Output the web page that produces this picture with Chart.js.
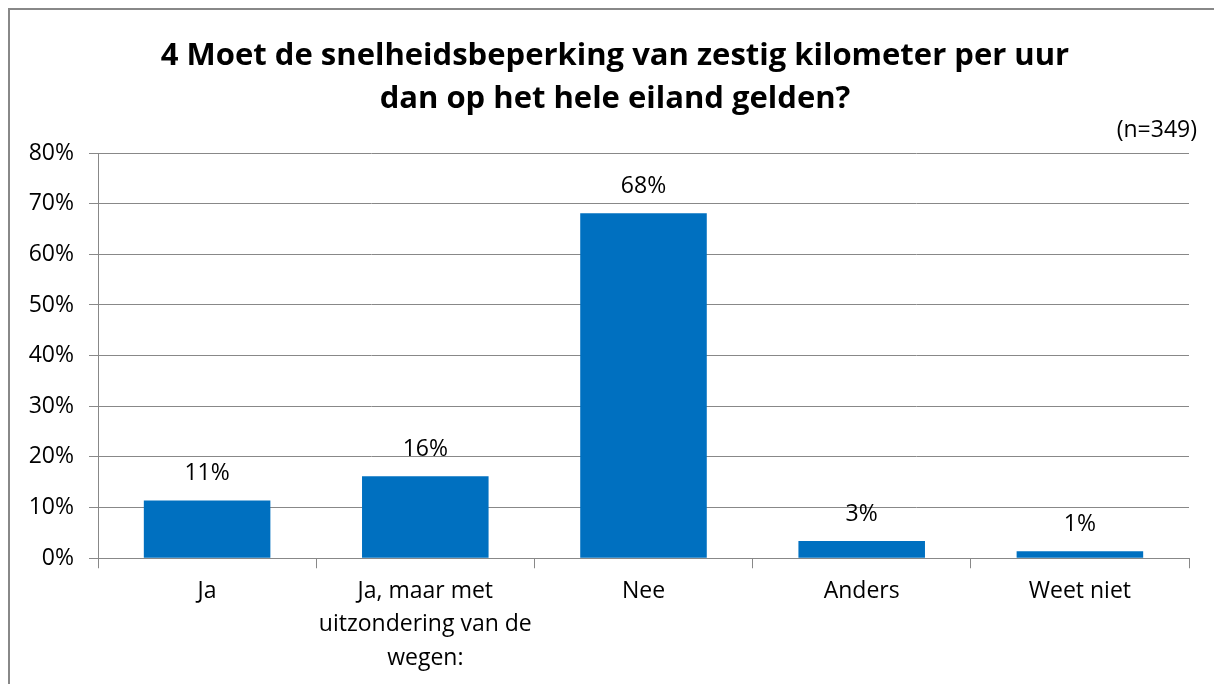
<!DOCTYPE html>
<html>
<head>
<meta charset="utf-8">
<script src="https://cdn.jsdelivr.net/npm/chart.js@4"></script>
<style>
  html, body { margin: 0; padding: 0; background: #fff; overflow: hidden; width: 1214px; height: 684px; }
  .edge { position: absolute; background: #888; }
  #edgeTop { left: 8px; top: 8px; width: 1206px; height: 2px; }
  #edgeLeft { left: 8px; top: 8px; width: 2px; height: 676px; }
  #wrap { position: absolute; left: 0; top: 0; width: 1214px; height: 684px; }
</style>
</head>
<body>
<div class="edge" id="edgeTop"></div>
<div class="edge" id="edgeLeft"></div>
<div id="wrap"><canvas id="chart"></canvas></div>
<script>
// antwoorden en percentages
const categories = ["Ja", ["Ja, maar met", "uitzondering van de", "wegen:"], "Nee", "Anders", "Weet niet"];
const percentages = [11.4, 16.2, 68.1, 3.4, 1.4];
const yTicks = [0, 10, 20, 30, 40, 50, 60, 70, 80];
const titleLines = ["4 Moet de snelheidsbeperking van zestig kilometer per uur", "dan op het hele eiland gelden?"];
const sampleNote = "(n=349)";

const FONT = "'Open Sans', 'Noto Sans', sans-serif";
const GRID = "#888888";
const TXT = 23;

// titel (gecentreerd op het kader), labels boven de staven, (n=...) rechtsboven
const textPlugin = {
    id: "chartTexts",
    afterDatasetsDraw(chart) {
        const ctx = chart.ctx;
        const meta = chart.getDatasetMeta(0);
        ctx.save();
        ctx.fillStyle = "#000";
        ctx.textAlign = "center";
        ctx.textBaseline = "middle";

        ctx.font = "bold 31px " + FONT;
        titleLines.forEach((line, i) => ctx.fillText(line, 615, 56 + i * 43));

        ctx.font = TXT + "px " + FONT;
        meta.data.forEach((bar, i) => {
            ctx.fillText(Math.round(percentages[i]) + "%", bar.x, bar.y - 27);
        });
        ctx.textAlign = "right";
        ctx.fillText(sampleNote, chart.chartArea.right + 8, chart.chartArea.top - 23);
        ctx.restore();
    }
};

new Chart(document.getElementById("chart"), {
    type: "bar",
    data: {
        labels: categories,
        datasets: [{
            data: percentages,
            backgroundColor: "#0070C0",
            borderWidth: 0,
            barPercentage: 0.58,
            categoryPercentage: 1
        }]
    },
    options: {
        responsive: true,
        maintainAspectRatio: false,
        animation: false,
        layout: { padding: { left: 0, right: 25, top: 153, bottom: 0 } },
        plugins: {
            legend: { display: false },
            tooltip: { enabled: false },
            title: { display: false }
        },
        scales: {
            x: {
                afterFit(scale) { scale.height += 3; },
                grid: { display: true, drawOnChartArea: false, drawTicks: true, tickLength: 10, color: GRID, offset: true },
                border: { display: true, color: GRID, width: 1 },
                ticks: { color: "#000", font: { family: FONT, size: TXT, lineHeight: 1.46 }, padding: 6, maxRotation: 0, autoSkip: false }
            },
            y: {
                min: 0,
                max: 80,
                afterFit(scale) { scale.width = 98; },
                afterBuildTicks(scale) { scale.ticks = yTicks.map(v => ({ value: v })); },
                grid: { color: GRID, tickLength: 9, lineWidth: 1 },
                border: { display: true, color: GRID, width: 1 },
                ticks: { color: "#000", font: { family: FONT, size: TXT }, padding: 15, callback: v => v + "%" }
            }
        }
    },
    plugins: [textPlugin]
});
</script>
</body>
</html>
